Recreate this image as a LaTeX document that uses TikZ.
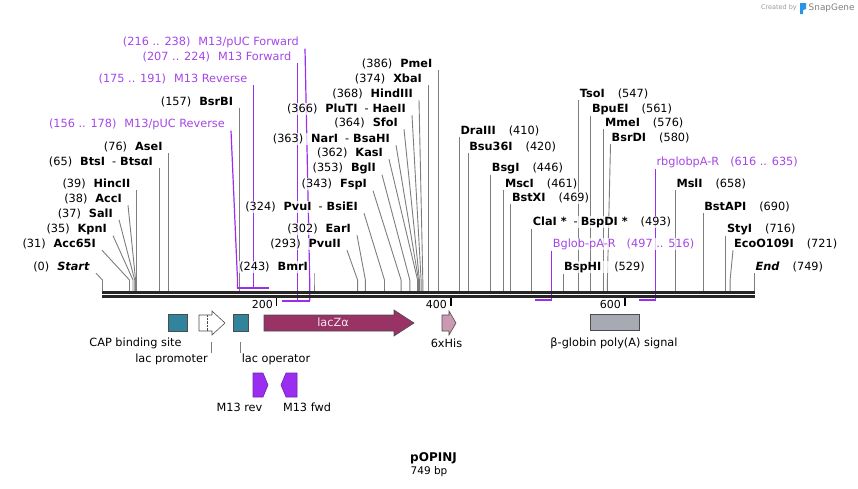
\documentclass[tikz,border=0pt]{standalone}
\usepackage{fontspec}
\setmainfont{DejaVu Sans}
\usetikzlibrary{backgrounds}
\definecolor{primer}{RGB}{155,45,240}
\definecolor{primertext}{RGB}{165,70,232}
\definecolor{capteal}{RGB}{49,132,155}
\definecolor{laczred}{RGB}{153,51,102}
\definecolor{hispink}{RGB}{204,153,178}
\definecolor{polyagray}{RGB}{166,171,179}
\definecolor{cutgray}{RGB}{125,125,125}
\definecolor{sgblue}{RGB}{40,150,230}
\newcommand{\labfont}{\fontsize{11.3}{13}\selectfont}
\tikzstyle{lsite}=[anchor=east,inner sep=1pt,fill=white,fill opacity=0.75,text opacity=1]
\tikzstyle{rsite}=[anchor=west,inner sep=1pt,fill=white,fill opacity=0.75,text opacity=1]
\tikzstyle{lprimer}=[lsite,text=primertext]
\tikzstyle{rprimer}=[rsite,text=primertext]
\tikzstyle{cut}=[draw=cutgray,line width=0.9pt]
\tikzstyle{oligo}=[draw=primer,line width=1.2pt]
\tikzstyle{feature}=[draw=black!70,line width=0.6pt]
\tikzstyle{featlabel}=[inner sep=1pt]

\begin{document}
\begin{tikzpicture}[x=1pt,y=-1pt,font=\labfont]
\useasboundingbox (0,0) rectangle (858,488);

% positions on the backbone
\coordinate (c0) at (102.5,291);
\coordinate (c31) at (129.5,291);
\coordinate (c35) at (133,291);
\coordinate (c37) at (134.7,291);
\coordinate (c38) at (135.6,291);
\coordinate (c39) at (136.4,291);
\coordinate (c65) at (159.1,291);
\coordinate (c76) at (168.7,291);
\coordinate (c157) at (239.2,291);
\coordinate (c243) at (314,291);
\coordinate (c293) at (357.6,291);
\coordinate (c302) at (365.4,291);
\coordinate (c324) at (384.5,291);
\coordinate (c343) at (401.1,291);
\coordinate (c353) at (409.8,291);
\coordinate (c362) at (417.6,291);
\coordinate (c363) at (418.5,291);
\coordinate (c364) at (419.4,291);
\coordinate (c366) at (421.1,291);
\coordinate (c368) at (422.8,291);
\coordinate (c374) at (428.1,291);
\coordinate (c386) at (438.5,291);
\coordinate (c410) at (459.4,291);
\coordinate (c420) at (468.1,291);
\coordinate (c446) at (490.7,291);
\coordinate (c461) at (503.8,291);
\coordinate (c469) at (510.8,291);
\coordinate (c493) at (531.7,291);
\coordinate (c529) at (563,291);
\coordinate (c547) at (578.7,291);
\coordinate (c561) at (590.8,291);
\coordinate (c576) at (603.9,291);
\coordinate (c580) at (607.4,291);
\coordinate (c658) at (675.3,291);
\coordinate (c690) at (703.1,291);
\coordinate (c716) at (725.8,291);
\coordinate (c721) at (730.1,291);
\coordinate (c749) at (754.5,291);
% primer ends
\coordinate (p156) at (237.5,288);
\coordinate (p175) at (253.5,288);
\coordinate (p224) at (297.5,300.5);
\coordinate (p238) at (309.7,300.5);
\coordinate (p516) at (551.7,300);
\coordinate (p635) at (655.3,300);

% sites, left of their line
\node[lsite] (start) at (91,267) {(0)\hspace{8pt}\textbf{\textit{Start}}};
\node[lsite] (acc65i) at (97,244) {(31)\hspace{8pt}\textbf{Acc65I}};
\node[lsite] (kpni) at (108,229) {(35)\hspace{8pt}\textbf{KpnI}};
\node[lsite] (sali) at (114,213.5) {(37)\hspace{8pt}\textbf{SalI}};
\node[lsite] (acci) at (123,199) {(38)\hspace{8pt}\textbf{AccI}};
\node[lsite] (hincii) at (131.4,184) {(39)\hspace{8pt}\textbf{HincII}};
\node[lsite] (btsi) at (154.1,162) {(65)\hspace{8pt}\textbf{BtsI}\hspace{7pt}-\hspace{4pt}\textbf{BtsαI}};
\node[lsite] (asei) at (163.7,147) {(76)\hspace{8pt}\textbf{AseI}};
\node[lsite] (bsrbi) at (234.2,102) {(157)\hspace{8pt}\textbf{BsrBI}};
\node[lsite] (bmri) at (309,267) {(243)\hspace{8pt}\textbf{BmrI}};
\node[lsite] (pvuii) at (342,244) {(293)\hspace{8pt}\textbf{PvuII}};
\node[lsite] (eari) at (352,229) {(302)\hspace{8pt}\textbf{EarI}};
\node[lsite] (pvui) at (359,207) {(324)\hspace{8pt}\textbf{PvuI}\hspace{7pt}-\hspace{4pt}\textbf{BsiEI}};
\node[lsite] (fspi) at (368,184) {(343)\hspace{8pt}\textbf{FspI}};
\node[lsite] (bgli) at (377,168) {(353)\hspace{8pt}\textbf{BglI}};
\node[lsite] (kasi) at (384,153) {(362)\hspace{8pt}\textbf{KasI}};
\node[lsite] (nari) at (391,139) {(363)\hspace{8pt}\textbf{NarI}\hspace{7pt}-\hspace{4pt}\textbf{BsaHI}};
\node[lsite] (sfoi) at (399,123) {(364)\hspace{8pt}\textbf{SfoI}};
\node[lsite] (pluti) at (407,109) {(366)\hspace{8pt}\textbf{PluTI}\hspace{7pt}-\hspace{4pt}\textbf{HaeII}};
\node[lsite] (hindiii) at (414,94) {(368)\hspace{8pt}\textbf{HindIII}};
\node[lsite] (xbai) at (423.1,79) {(374)\hspace{8pt}\textbf{XbaI}};
\node[lsite] (pmei) at (433.5,64) {(386)\hspace{8pt}\textbf{PmeI}};

% sites, right of their line
\node[rsite] (draiii) at (459.4,131) {\textbf{DraIII}\hspace{13pt}(410)};
\node[rsite] (bsu36i) at (468.1,147) {\textbf{Bsu36I}\hspace{13pt}(420)};
\node[rsite] (bsgi) at (490.7,168) {\textbf{BsgI}\hspace{13pt}(446)};
\node[rsite] (msci) at (503.8,184) {\textbf{MscI}\hspace{13pt}(461)};
\node[rsite] (bstxi) at (510.8,198) {\textbf{BstXI}\hspace{13pt}(469)};
\node[rsite] (clai) at (531.7,222) {\textbf{ClaI *}\hspace{7pt}-\hspace{3pt}\textbf{BspDI *}\hspace{13pt}(493)};
\node[rsite] (bsphi) at (563,267) {\textbf{BspHI}\hspace{13pt}(529)};
\node[rsite] (tsoi) at (578.7,94) {\textbf{TsoI}\hspace{13pt}(547)};
\node[rsite] (bpuei) at (590.8,109) {\textbf{BpuEI}\hspace{13pt}(561)};
\node[rsite] (mmei) at (603.9,123) {\textbf{MmeI}\hspace{13pt}(576)};
\node[rsite] (bsrdi) at (610.5,138) {\textbf{BsrDI}\hspace{13pt}(580)};
\node[rsite] (msli) at (675.3,184) {\textbf{MslI}\hspace{13pt}(658)};
\node[rsite] (bstapi) at (703.1,207) {\textbf{BstAPI}\hspace{13pt}(690)};
\node[rsite] (styi) at (725.8,229) {\textbf{StyI}\hspace{13pt}(716)};
\node[rsite] (eco) at (733,244) {\textbf{EcoO109I}\hspace{13pt}(721)};
\node[rsite] (endlab) at (754.5,267) {\textbf{\textit{End}}\hspace{13pt}(749)};

% primers
\node[lprimer] (m13pucfwd) at (300,42) {(216 .. 238)\hspace{8pt}M13/pUC Forward};
\node[lprimer] (m13fwd) at (292.5,57) {(207 .. 224)\hspace{8pt}M13 Forward};
\node[lprimer] (m13rev) at (248.5,79) {(175 .. 191)\hspace{8pt}M13 Reverse};
\node[lprimer] (m13pucrev) at (226,124) {(156 .. 178)\hspace{8pt}M13/pUC Reverse};
\node[rprimer] (bglob) at (551.7,244) {Bglob-pA-R\hspace{11pt}(497 .. 516)};
\node[rprimer] (rbglob) at (655.3,162) {rbglobpA-R\hspace{11pt}(616 .. 635)};

\begin{scope}[on background layer]
% lines to the cut sites
\draw[cut] ([xshift=5pt]start.south east) -- ([yshift=11pt]c0) -- (c0);
\draw[cut] ([xshift=5pt]acc65i.south east) -- ([yshift=11pt]c31) -- (c31);
\draw[cut] ([xshift=5pt]kpni.south east) -- ([yshift=11pt]c35) -- (c35);
\draw[cut] ([xshift=5pt]sali.south east) -- ([yshift=11pt]c37) -- (c37);
\draw[cut] ([xshift=5pt]acci.south east) -- ([yshift=11pt]c38) -- (c38);
\draw[cut] ([xshift=5pt]hincii.south east) -- ([yshift=11pt]c39) -- (c39);
\draw[cut] ([xshift=5pt]btsi.south east) -- ([yshift=11pt]c65) -- (c65);
\draw[cut] ([xshift=5pt]asei.south east) -- ([yshift=11pt]c76) -- (c76);
\draw[cut] ([xshift=5pt]bsrbi.south east) -- ([yshift=11pt]c157) -- (c157);
\draw[cut] ([xshift=5pt]bmri.south east) -- ([yshift=11pt]c243) -- (c243);
\draw[cut] ([xshift=5pt]pvuii.south east) -- ([yshift=11pt]c293) -- (c293);
\draw[cut] ([xshift=5pt]eari.south east) -- ([yshift=11pt]c302) -- (c302);
\draw[cut] ([xshift=5pt]pvui.south east) -- ([yshift=11pt]c324) -- (c324);
\draw[cut] ([xshift=5pt]fspi.south east) -- ([yshift=11pt]c343) -- (c343);
\draw[cut] ([xshift=5pt]bgli.south east) -- ([yshift=11pt]c353) -- (c353);
\draw[cut] ([xshift=5pt]kasi.south east) -- ([yshift=11pt]c362) -- (c362);
\draw[cut] ([xshift=5pt]nari.south east) -- ([yshift=11pt]c363) -- (c363);
\draw[cut] ([xshift=5pt]sfoi.south east) -- ([yshift=11pt]c364) -- (c364);
\draw[cut] ([xshift=5pt]pluti.south east) -- ([yshift=11pt]c366) -- (c366);
\draw[cut] ([xshift=5pt]hindiii.south east) -- ([yshift=11pt]c368) -- (c368);
\draw[cut] ([xshift=5pt]xbai.south east) -- ([yshift=11pt]c374) -- (c374);
\draw[cut] ([xshift=5pt]pmei.south east) -- ([yshift=11pt]c386) -- (c386);
\draw[cut] (draiii.south west) -- (c410);
\draw[cut] (bsu36i.south west) -- (c420);
\draw[cut] (bsgi.south west) -- (c446);
\draw[cut] (msci.south west) -- (c461);
\draw[cut] (bstxi.south west) -- (c469);
\draw[cut] (clai.south west) -- (c493);
\draw[cut] (bsphi.south west) -- (c529);
\draw[cut] (tsoi.south west) -- (c547);
\draw[cut] (bpuei.south west) -- (c561);
\draw[cut] (mmei.south west) -- (c576);
\draw[cut] (bsrdi.south west) -- ([yshift=11pt]c580) -- (c580);
\draw[cut] (msli.south west) -- (c658);
\draw[cut] (bstapi.south west) -- (c690);
\draw[cut] (styi.south west) -- (c716);
\draw[cut] (eco.south west) -- ([yshift=11pt]c721) -- (c721);
\draw[cut] (endlab.south west) -- (c749);
% lines to the primers
\draw[oligo] ([xshift=5pt]m13pucfwd.south east) -- ([yshift=20pt]p238) -- (p238);
\draw[oligo] ([xshift=5pt]m13fwd.south east) -- (p224);
\draw[oligo] ([xshift=5pt]m13rev.south east) -- (p175);
\draw[oligo] ([xshift=5pt]m13pucrev.south east) -- ([yshift=8pt]p156) -- (p156);
\draw[oligo] (bglob.south west) -- (p516);
\draw[oligo] (rbglob.south west) -- (p635);
\end{scope}

% primer bars
\draw[oligo,line width=2pt] (237,288) -- (269,288);
\draw[oligo,line width=2pt] (282,300.5) -- (310,300.5);
\draw[oligo,line width=2pt] (535,300) -- (552,300);
\draw[oligo,line width=2pt] (638.5,300) -- (655.5,300);

% backbone and ruler
\draw[line width=3pt,black!85] (102,292.5) -- (755,292.5);
\draw[line width=3pt,black!85] (102,296.5) -- (755,296.5);
\draw[line width=1.6pt] (276.6,298) -- (276.6,305.5);
\draw[line width=1.6pt] (450.7,298) -- (450.7,305.5);
\draw[line width=1.6pt] (624.8,298) -- (624.8,305.5);
\node[anchor=east,inner sep=1pt,font=\fontsize{11}{12}\selectfont] (r200) at (274,304) {200};
\node[anchor=east,inner sep=1pt,font=\fontsize{11}{12}\selectfont] (r400) at (448,304) {400};
\node[anchor=east,inner sep=1pt,font=\fontsize{11}{12}\selectfont] (r600) at (622,304) {600};

% features
\node[feature,fill=capteal,minimum width=19pt,minimum height=17pt,inner sep=0pt] (cap) at (177.5,322.5) {};
\draw[feature,fill=white] (199,315) -- (212,315) -- (212,311) -- (225,323) -- (212,335) -- (212,331) -- (199,331) -- cycle;
\draw[densely dotted,black!70] (207,315) -- (207,331);
\node[feature,fill=capteal,minimum width=15pt,minimum height=17pt,inner sep=0pt] (op) at (240.5,322.5) {};
\draw[feature,fill=laczred] (264,315) -- (394,315) -- (394,310) -- (414,323) -- (394,336) -- (394,331) -- (264,331) -- cycle;
\node[text=white!88!laczred] (laczlab) at (333,322) {lacZα};
\draw[feature,fill=hispink] (442,315) -- (449,315) -- (449,311) -- (456,323) -- (449,335) -- (449,331) -- (442,331) -- cycle;
\node[feature,fill=polyagray,minimum width=49pt,minimum height=16pt,inner sep=0pt] (polya) at (614.5,322) {};
\draw[draw=primer!75!black,line width=0.6pt,fill=primer] (253,373) -- (263,373) -- (268,385) -- (263,397) -- (253,397) -- cycle;
\draw[draw=primer!75!black,line width=0.6pt,fill=primer] (297,373) -- (286,373) -- (281,385) -- (286,397) -- (297,397) -- cycle;

% feature labels
\node[featlabel] (caplab) at (135.5,343) {CAP binding site};
\node[featlabel] (promlab) at (171.5,359.5) {lac promoter};
\node[featlabel] (oplab) at (276,359.5) {lac operator};
\node[featlabel] (hislab) at (446.5,343) {6xHis};
\node[featlabel] (polyalab) at (614,343) {β-globin poly(A) signal};
\node[featlabel] (m13revlab) at (239.5,407) {M13 rev};
\node[featlabel] (m13fwdlab) at (307,407) {M13 fwd};
\draw[cutgray,line width=0.7pt] ([xshift=2pt]promlab.north east) -- ++(0,-11);
\draw[cutgray,line width=0.7pt] (oplab.north west) -- ++(0,-11);

% title
\node[font=\bfseries\fontsize{12}{14}\selectfont] (title) at (433.5,458) {pOPINJ};
\node[font=\fontsize{10.5}{12}\selectfont] (size) at (429,472) {749 bp};

% credit
\node[anchor=east,inner sep=0pt,text=black!40,font=\fontsize{6.5}{7}\selectfont] (credit) at (797,8) {Created by};
\fill[sgblue] (800,3) -- (806,3) -- (806,9) -- (803,10) -- (803,14) -- (800,14) -- cycle;
\node[anchor=west,inner sep=0pt,text=black!50,font=\fontsize{8.9}{10}\selectfont] (snapgene) at (808.5,8) {SnapGene};
\end{tikzpicture}
\end{document}
